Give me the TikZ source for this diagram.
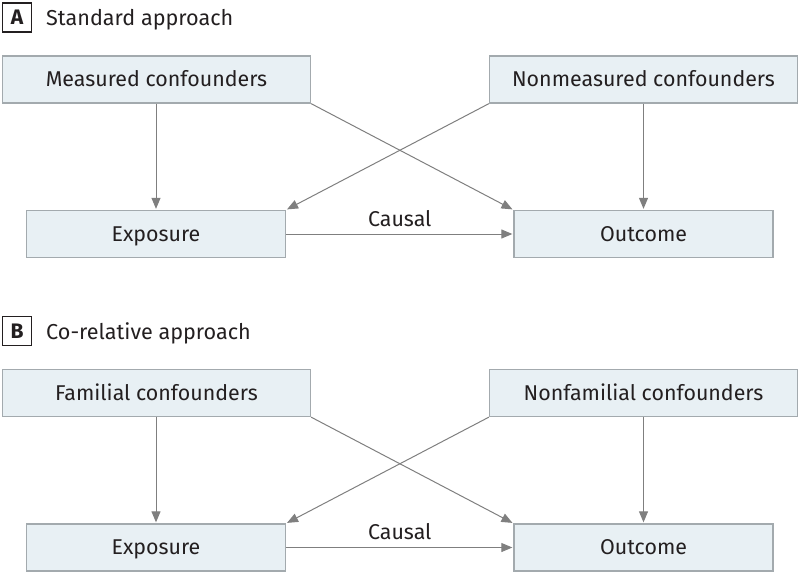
\documentclass[tikz,border=0pt]{standalone}
\usepackage{fontspec}
\setmainfont{Fira Sans}
\usetikzlibrary{arrows.meta}
\definecolor{boxfill}{HTML}{E8F0F4}
\definecolor{boxdraw}{HTML}{A3AAAE}
\definecolor{arr}{HTML}{7F7F7F}
\definecolor{txt}{HTML}{231F20}
\begin{document}
\begin{tikzpicture}[x=1pt,y=-1pt,
  box/.style={draw=boxdraw,fill=boxfill,line width=1.3pt,minimum width=308pt,minimum height=47pt,inner sep=0pt,text height=16.5pt,text depth=2.5pt,font=\fontsize{21.4}{25}\selectfont,text=txt},
  lowbox/.style={box,minimum width=259pt},
  tag/.style={draw=txt,line width=1.2pt,minimum width=29pt,minimum height=29pt,inner sep=0pt,font=\fontsize{21}{24}\selectfont\bfseries,text=txt},
  title/.style={anchor=west,inner sep=0pt,font=\fontsize{21.6}{25}\selectfont,text=txt},
  conn/.style={draw=arr,line width=1pt,-{Triangle[length=11pt,width=9pt]},shorten >=1pt},
  lab/.style={inner sep=0pt,font=\fontsize{21.4}{25}\selectfont,text=txt}]
\useasboundingbox (0,0) rectangle (800,573);
% Panel A
\node[tag] (tA) at (17,17.5) {A};
\node[title] (ttA) at (46,19.5) {Standard approach};
\node[box] (mA) at (156.5,79.5) {Measured confounders};
\node[box] (nA) at (643.5,79.5) {Nonmeasured confounders};
\node[lowbox] (eA) at (156,234) {Exposure};
\node[lowbox] (oA) at (643.5,234) {Outcome};
\draw[conn] (mA.south -| eA.north) -- (eA.north);
\draw[conn] (nA.south -| oA.north) -- (oA.north);
\draw[conn] (mA.south east) -- (oA.north west);
\draw[conn] (nA.south west) -- (eA.north east);
\draw[conn] (eA.east) -- node[lab,above=7pt] (cA) {Causal} (oA.west);
% Panel B
\begin{scope}[yshift=-313.5pt]
\node[tag] (tB) at (17,17.5) {B};
\node[title] (ttB) at (46,19.5) {Co-relative approach};
\node[box] (mB) at (156.5,79.5) {Familial confounders};
\node[box] (nB) at (643.5,79.5) {Nonfamilial confounders};
\node[lowbox] (eB) at (156,234) {Exposure};
\node[lowbox] (oB) at (643.5,234) {Outcome};
\draw[conn] (mB.south -| eB.north) -- (eB.north);
\draw[conn] (nB.south -| oB.north) -- (oB.north);
\draw[conn] (mB.south east) -- (oB.north west);
\draw[conn] (nB.south west) -- (eB.north east);
\draw[conn] (eB.east) -- node[lab,above=7pt] (cB) {Causal} (oB.west);
\end{scope}
\end{tikzpicture}
\end{document}
